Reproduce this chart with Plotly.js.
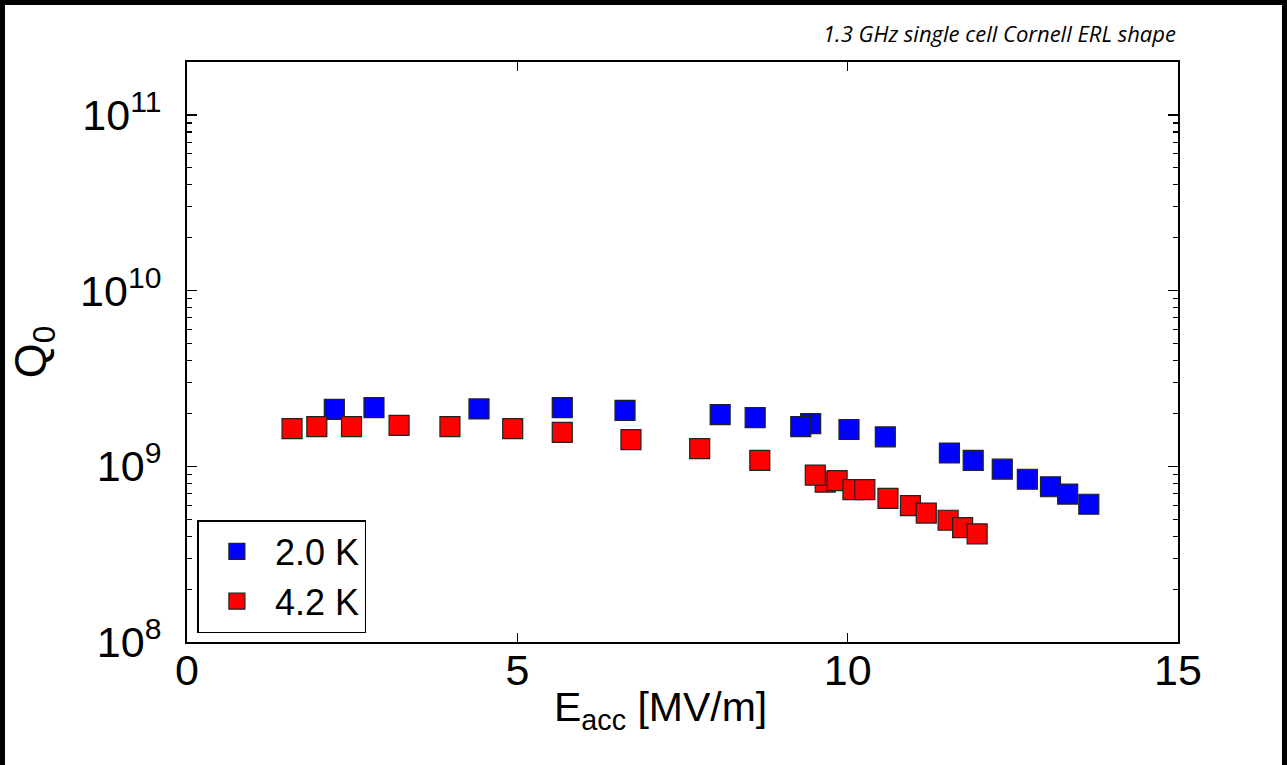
<!DOCTYPE html>
<html>
<head>
<meta charset="utf-8">
<script src="https://cdn.plot.ly/plotly-3.0.1.min.js"></script>
<style>
  html, body { margin: 0; padding: 0; background: #000; overflow: hidden; }
  #chart { position: absolute; left: 5px; top: 5px; width: 1277px; height: 760px; background: #fff; }
</style>
</head>
<body>
<div id="chart"></div>
<script>
// 2.0 K series
const eacc20 = [2.23, 2.83, 4.42, 5.68, 6.63, 8.07, 8.60, 9.44, 9.29, 10.02, 10.57, 11.54, 11.90, 12.34, 12.72, 13.07, 13.33, 13.65];
const q0_20  = [2.11e9, 2.16e9, 2.12e9, 2.16e9, 2.08e9, 1.97e9, 1.89e9, 1.75e9, 1.68e9, 1.62e9, 1.47e9, 1.19e9, 1.08e9, 9.63e8, 8.44e8, 7.65e8, 6.95e8, 6.08e8];
// 4.2 K series
const eacc42 = [1.59, 1.965, 2.49, 3.21, 3.98, 4.93, 5.68, 6.72, 7.76, 8.67, 9.66, 9.51, 9.84, 10.08, 10.26, 10.61, 10.95, 11.19, 11.52, 11.74, 11.96];
const q0_42  = [1.64e9, 1.68e9, 1.68e9, 1.71e9, 1.68e9, 1.64e9, 1.56e9, 1.42e9, 1.26e9, 1.08e9, 8.13e8, 8.91e8, 8.28e8, 7.36e8, 7.36e8, 6.57e8, 5.97e8, 5.42e8, 4.93e8, 4.48e8, 4.13e8];

const seriesNames = ['2.0 K', '4.2 K'];
const xTicks = [0, 5, 10, 15];
const yTicks = [1e8, 1e9, 1e10, 1e11];
const yTickText = ['10<sup>8</sup>', '10<sup>9</sup>', '10<sup>10</sup>', '10<sup>11</sup>'];
const yMinorMantissas = [2, 3, 4, 5, 6, 7, 8, 9];
const yMinorDecades = [1e8, 1e9, 1e10, 1e11];
const chartTitle = '1.3 GHz single cell Cornell ERL shape';
const xTitle = 'E<sub>acc</sub> [MV/m]';
const yTitle = 'Q<sub>0</sub>';

const yMinorTicks = [];
yMinorDecades.forEach(d => yMinorMantissas.forEach(m => yMinorTicks.push(m * d)));

const fam = 'Liberation Sans, Arial, sans-serif';
const axisFont = {family: fam, size: 43, color: '#000'};
const yRange = [8, Math.log10(2e11)];

const traces = [
  {x: eacc20, y: q0_20, name: seriesNames[0], type: 'scatter', mode: 'markers',
   marker: {symbol: 'square', size: 20, color: '#0000ff', line: {color: '#222', width: 1.2}}},
  {x: eacc42, y: q0_42, name: seriesNames[1], type: 'scatter', mode: 'markers',
   marker: {symbol: 'square', size: 20, color: '#ff0000', line: {color: '#222', width: 1.2}}}
];

const layout = {
  width: 1277, height: 760,
  margin: {l: 182, r: 104, t: 57, b: 123},
  paper_bgcolor: '#fff', plot_bgcolor: '#fff',
  showlegend: true,
  font: axisFont,
  xaxis: {
    range: [0, 15], tickvals: xTicks, ticktext: xTicks.map(String),
    ticks: 'inside', ticklen: 9, tickwidth: 1.5, tickcolor: '#000',
    showline: true, linecolor: '#000', linewidth: 2, mirror: 'ticks',
    showgrid: false, zeroline: false,
    tickfont: axisFont, ticklabelstandoff: -11
  },
  yaxis: {
    type: 'log', range: yRange,
    tickmode: 'array', tickvals: yTicks, ticktext: yTickText,
    ticks: 'inside', ticklen: 10, tickwidth: 1.5, tickcolor: '#000',
    showline: true, linecolor: '#000', linewidth: 2, mirror: 'ticks',
    showgrid: false, zeroline: false,
    tickfont: axisFont, ticklabelstandoff: 15,
    title: {text: yTitle, font: {family: fam, size: 45, color: '#000'}, standoff: 38}
  },
  yaxis2: {
    type: 'log', range: yRange, overlaying: 'y', side: 'left',
    tickmode: 'array', tickvals: yMinorTicks, showticklabels: false,
    ticks: 'inside', ticklen: 5, tickwidth: 1.2, tickcolor: '#000',
    showline: false, mirror: 'ticks', showgrid: false, zeroline: false
  },
  legend: {
    x: 0.0105, y: 0.0155, xanchor: 'left', yanchor: 'bottom',
    bgcolor: '#fff', bordercolor: '#000', borderwidth: 1.5,
    font: {family: fam, size: 36, color: '#000'},
    itemwidth: 66, itemsizing: 'trace',
    entrywidth: 176, entrywidthmode: 'pixels'
  },
  annotations: [
    {text: chartTitle, xref: 'paper', yref: 'paper', x: 1, y: 1.05,
     xanchor: 'right', yanchor: 'middle', showarrow: false,
     font: {family: 'Open Sans, sans-serif', size: 22, style: 'italic', color: '#000'}},
    {text: xTitle, xref: 'paper', yref: 'paper', x: 0.478, y: -0.117,
     xanchor: 'center', yanchor: 'middle', showarrow: false,
     font: {family: fam, size: 41, color: '#000'}}
  ]
};

// invisible helper trace so the overlaid log axis (minor ticks) is drawn
traces.push({x: [0], y: [1e8], yaxis: 'y2', type: 'scatter', mode: 'markers',
  marker: {opacity: 0}, showlegend: false, hoverinfo: 'skip'});

Plotly.newPlot('chart', traces, layout, {displayModeBar: false, staticPlot: true});
</script>
</body>
</html>
